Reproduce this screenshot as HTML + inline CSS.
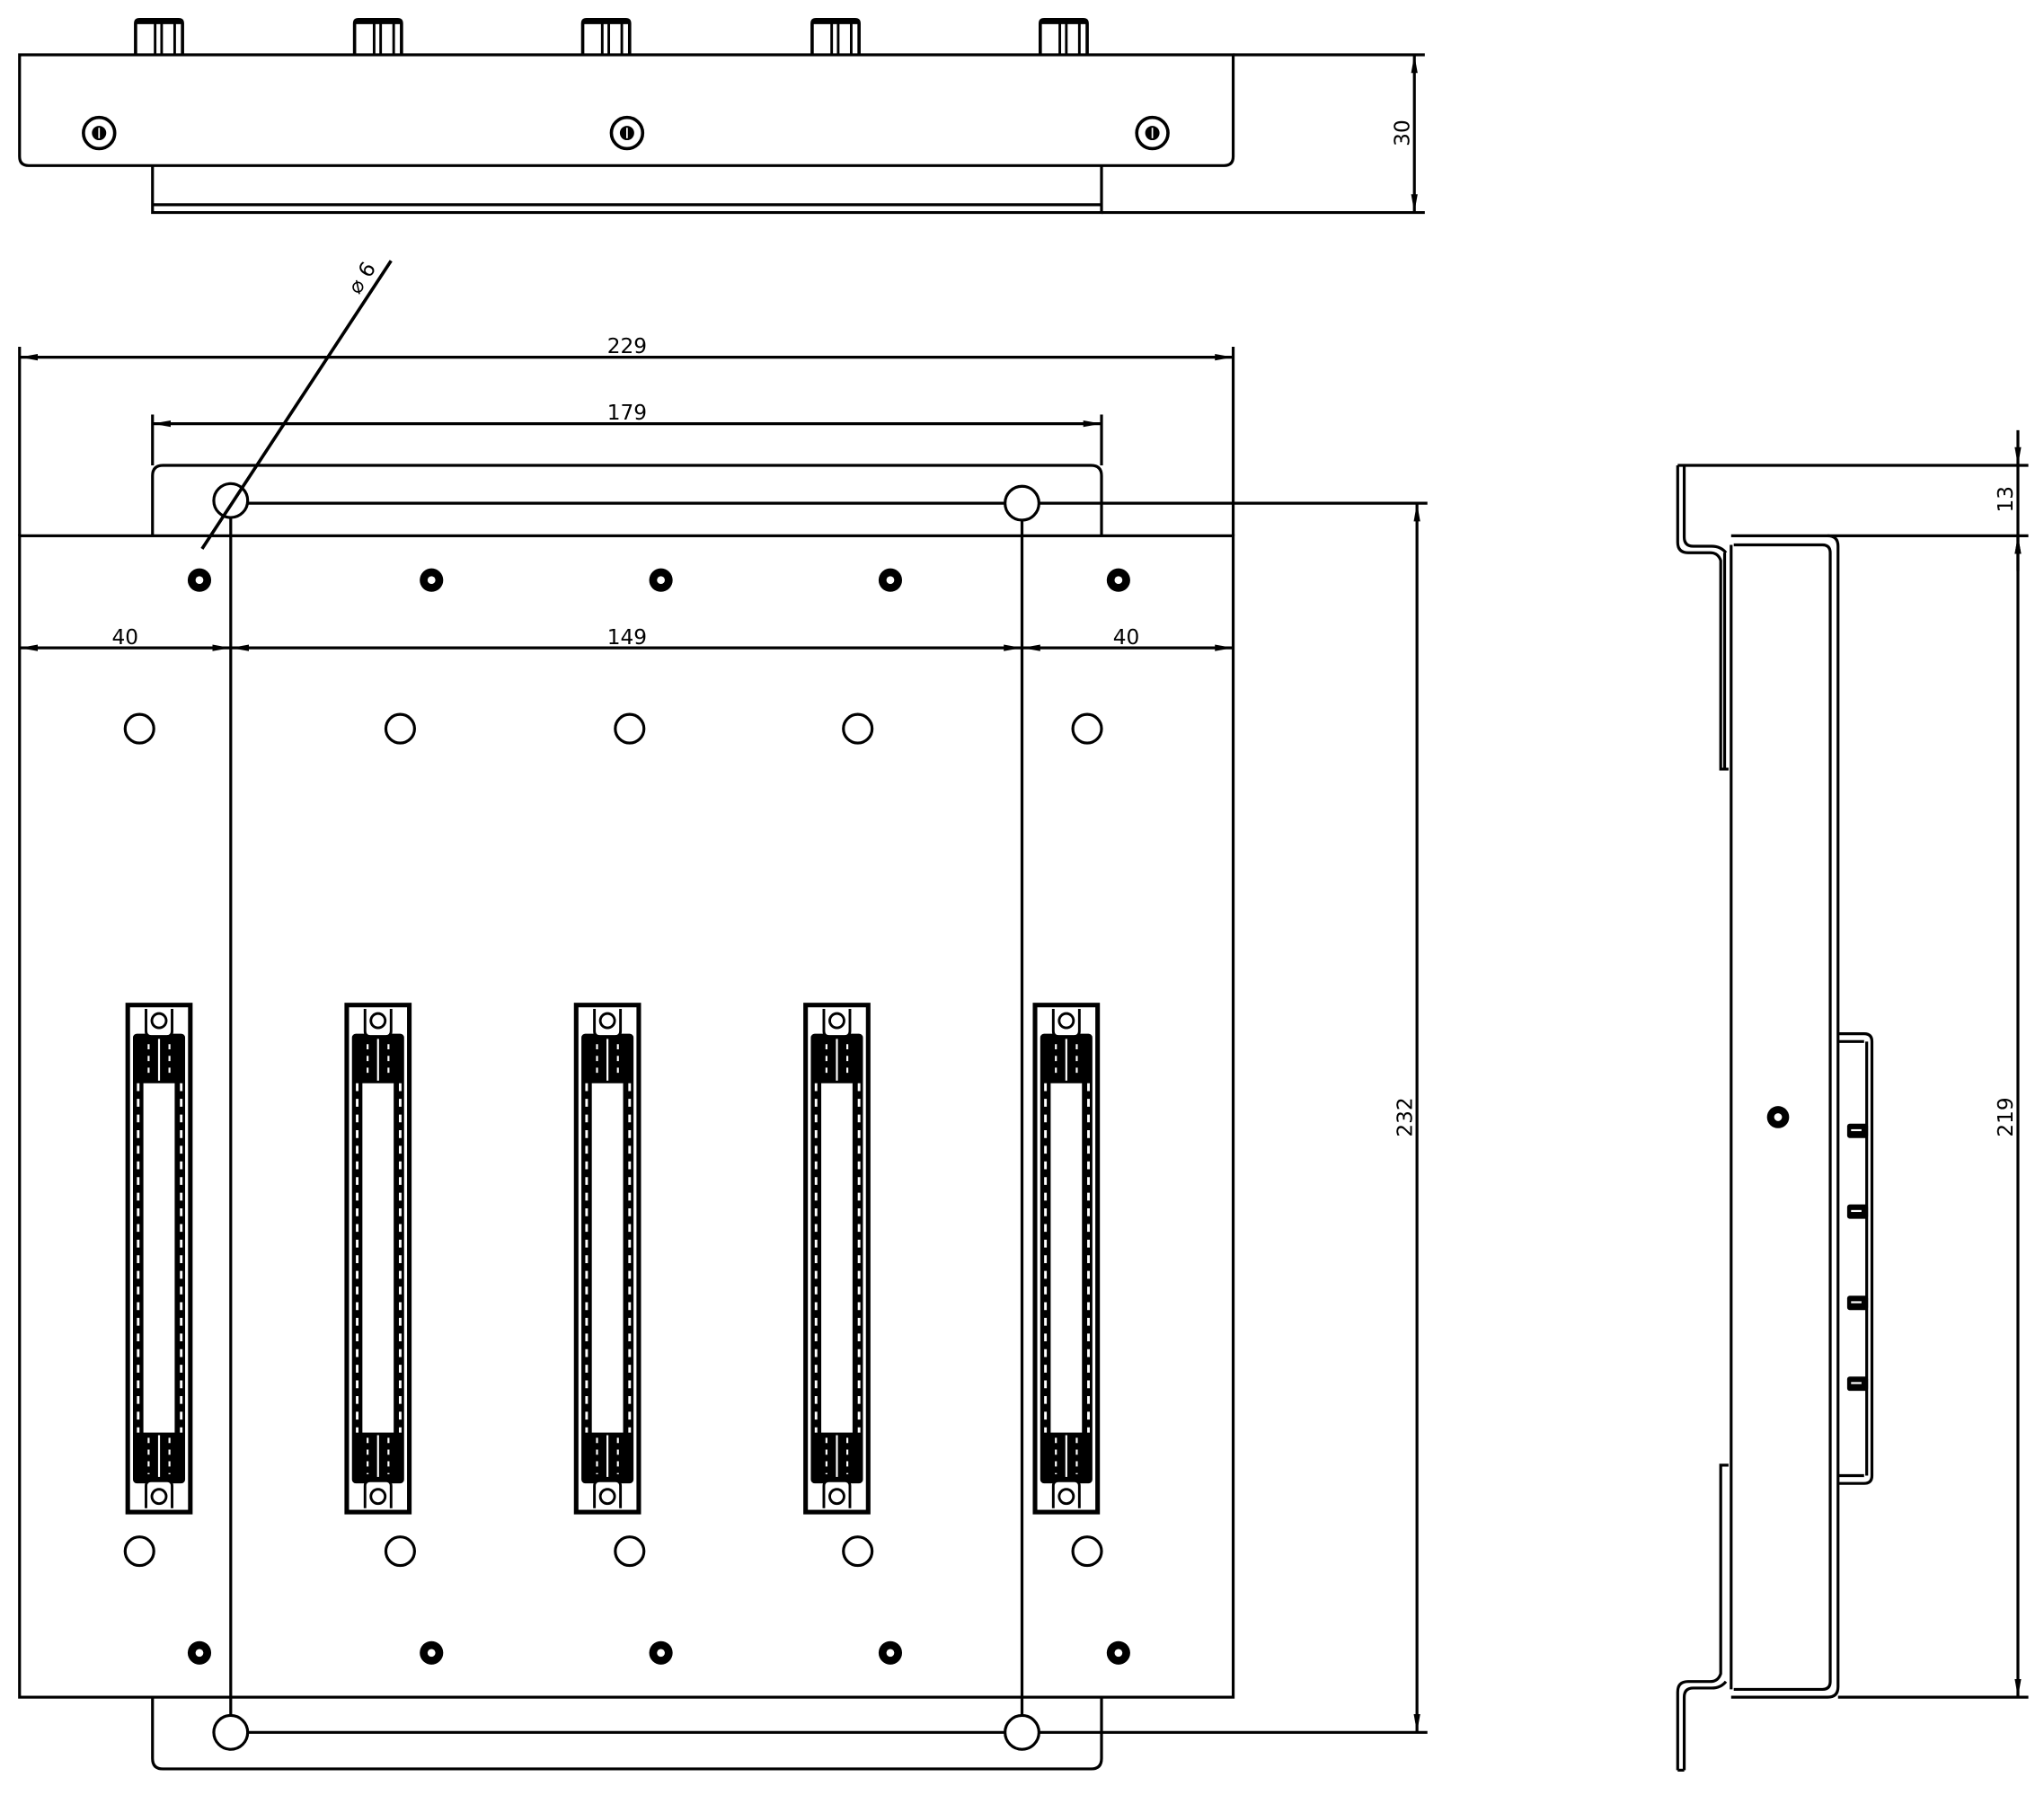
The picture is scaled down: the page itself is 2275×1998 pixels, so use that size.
<!DOCTYPE html>
<html><head><meta charset="utf-8"><style>
html,body{margin:0;padding:0;background:#fff}
svg{display:block}
text{font-family:"DejaVu Sans","Liberation Sans",sans-serif;font-size:16px;fill:#000}
</style></head><body>
<svg width="2275" height="1998" viewBox="0 0 1568 1377" xmlns="http://www.w3.org/2000/svg">
<defs>
<marker id="a" viewBox="0 0 14 6" refX="14" refY="3" markerWidth="14" markerHeight="6" markerUnits="userSpaceOnUse" orient="auto-start-reverse">
<path d="M0,0.5 L14,3 L0,5.5 Z" fill="#000"/></marker>
<g id="dot"><circle r="9" fill="#000"/><circle r="3" fill="#fff"/></g>
<g id="conn">
<rect x="0" y="0" width="48" height="389" fill="#fff" stroke="#000" stroke-width="3.5"/>
<rect x="4" y="22" width="40" height="345" rx="3" fill="#000"/>
<rect x="12" y="60" width="24" height="268" fill="#fff"/>
<line x1="8" y1="60" x2="8" y2="328" stroke="#fff" stroke-width="2" stroke-dasharray="6 6"/>
<line x1="41" y1="60" x2="41" y2="328" stroke="#fff" stroke-width="2" stroke-dasharray="6 6"/>
<line x1="16" y1="30" x2="16" y2="56" stroke="#fff" stroke-width="1.5" stroke-dasharray="4 5"/>
<line x1="24" y1="26" x2="24" y2="58" stroke="#fff" stroke-width="1.5"/>
<line x1="32" y1="30" x2="32" y2="56" stroke="#fff" stroke-width="1.5" stroke-dasharray="4 5"/>
<line x1="16" y1="332" x2="16" y2="360" stroke="#fff" stroke-width="1.5" stroke-dasharray="4 5"/>
<line x1="24" y1="330" x2="24" y2="362" stroke="#fff" stroke-width="1.5"/>
<line x1="32" y1="332" x2="32" y2="360" stroke="#fff" stroke-width="1.5" stroke-dasharray="4 5"/>
<path d="M14,3 L14,20 Q14,24 18,24 L30,24 Q34,24 34,20 L34,3" fill="#fff" stroke="#000" stroke-width="2"/>
<circle cx="24" cy="12" r="5.5" fill="none" stroke="#000" stroke-width="2"/>
<path d="M14,386 L14,369 Q14,365 18,365 L30,365 Q34,365 34,369 L34,386" fill="#fff" stroke="#000" stroke-width="2"/>
<circle cx="24" cy="377" r="5.5" fill="none" stroke="#000" stroke-width="2"/>
</g>
<g id="knob">
<path d="M0,27 L0,3 Q0,0 3,0 L33,0 Q36,0 36,3 L36,27" fill="#fff" stroke="#000" stroke-width="2.5"/>
<line x1="0" y1="2" x2="36" y2="2" stroke="#000" stroke-width="3"/>
<line x1="15" y1="0" x2="15" y2="27" stroke="#000" stroke-width="2"/>
<line x1="20" y1="0" x2="20" y2="27" stroke="#000" stroke-width="2"/>
<line x1="30" y1="0" x2="30" y2="27" stroke="#000" stroke-width="2"/>
</g>
<g id="scr"><circle r="12" fill="#fff" stroke="#000" stroke-width="2.5"/><circle r="5.5" fill="#000"/><line x1="0" y1="-4" x2="0" y2="4" stroke="#fff" stroke-width="1.2"/></g>
</defs>
<g fill="none" stroke="#000" stroke-width="2.2">
<use href="#knob" x="104" y="15"/><use href="#knob" x="272" y="15"/><use href="#knob" x="447" y="15"/><use href="#knob" x="623" y="15"/><use href="#knob" x="798" y="15"/>
<path d="M15,42 L946,42 L946,120 Q946,127 939,127 L22,127 Q15,127 15,120 Z" fill="#fff"/>
<path d="M117,127 L117,163 L845,163 L845,127"/>
<line x1="117" y1="157" x2="845" y2="157"/>
<line x1="946" y1="42" x2="1093" y2="42"/>
<line x1="845" y1="163" x2="1093" y2="163"/>
<line x1="1085" y1="42" x2="1085" y2="163" marker-start="url(#a)" marker-end="url(#a)"/>
<use href="#scr" x="76" y="102" stroke="none"/><use href="#scr" x="481" y="102" stroke="none"/><use href="#scr" x="884" y="102" stroke="none"/>

<path d="M117,411 L117,365 Q117,357 125,357 L837,357 Q845,357 845,365 L845,411"/>
<path d="M117,1302 L117,1349 Q117,1357 125,1357 L837,1357 Q845,1357 845,1349 L845,1302"/>
<rect x="15" y="411" width="931" height="891"/>
<line x1="15" y1="266" x2="15" y2="411"/>
<line x1="946" y1="266" x2="946" y2="411"/>
<line x1="117" y1="318" x2="117" y2="357"/>
<line x1="845" y1="318" x2="845" y2="357"/>
<line x1="15" y1="274" x2="946" y2="274" marker-start="url(#a)" marker-end="url(#a)"/>
<line x1="117" y1="325" x2="845" y2="325" marker-start="url(#a)" marker-end="url(#a)"/>
<line x1="15" y1="497" x2="177" y2="497" marker-start="url(#a)" marker-end="url(#a)"/>
<line x1="177" y1="497" x2="784" y2="497" marker-start="url(#a)" marker-end="url(#a)"/>
<line x1="784" y1="497" x2="946" y2="497" marker-start="url(#a)" marker-end="url(#a)"/>
<line x1="177" y1="384" x2="177" y2="1329"/>
<line x1="784" y1="384" x2="784" y2="1329"/>
<line x1="177" y1="386" x2="1095" y2="386"/>
<line x1="177" y1="1329" x2="1095" y2="1329"/>
<line x1="1087" y1="386" x2="1087" y2="1329" marker-start="url(#a)" marker-end="url(#a)"/>
<circle cx="177" cy="384" r="13" fill="#fff"/><circle cx="784" cy="386" r="13" fill="#fff"/>
<circle cx="177" cy="1329" r="13" fill="#fff"/><circle cx="784" cy="1329" r="13" fill="#fff"/>
<line x1="155" y1="421" x2="300" y2="200" stroke-width="2.5"/>
<g fill="#fff"><circle cx="107" cy="559" r="11"/><circle cx="307" cy="559" r="11"/><circle cx="483" cy="559" r="11"/><circle cx="658" cy="559" r="11"/><circle cx="834" cy="559" r="11"/>
<circle cx="107" cy="1190" r="11"/><circle cx="307" cy="1190" r="11"/><circle cx="483" cy="1190" r="11"/><circle cx="658" cy="1190" r="11"/><circle cx="834" cy="1190" r="11"/></g>
</g>
<g>
<use href="#dot" x="153" y="445"/><use href="#dot" x="331" y="445"/><use href="#dot" x="507" y="445"/><use href="#dot" x="683" y="445"/><use href="#dot" x="858" y="445"/>
<use href="#dot" x="153" y="1268"/><use href="#dot" x="331" y="1268"/><use href="#dot" x="507" y="1268"/><use href="#dot" x="683" y="1268"/><use href="#dot" x="858" y="1268"/>
<use href="#conn" x="98" y="771"/><use href="#conn" x="266" y="771"/><use href="#conn" x="442" y="771"/><use href="#conn" x="618" y="771"/><use href="#conn" x="794" y="771"/>
</g>

<g fill="none" stroke="#000" stroke-width="2.2">
<path d="M1287,357 L1287,416 Q1287,424 1295,424 L1312,424 Q1318,424 1320,430 L1320,590 L1326,590"/>
<path d="M1292,357 L1292,412 Q1292,419 1299,419 L1313,419 Q1320,419 1324,424"/>
<line x1="1287" y1="357" x2="1556" y2="357"/>
<path d="M1328,411 L1402,411 Q1410,411 1410,419 L1410,1294 Q1410,1302 1402,1302 L1328,1302"/>
<line x1="1402" y1="411" x2="1556" y2="411"/>
<line x1="1410" y1="1302" x2="1556" y2="1302"/>
<path d="M1330,418 L1398,418 Q1404,418 1404,424 L1404,1290 Q1404,1296 1398,1296 L1330,1296"/>
<line x1="1328" y1="418" x2="1328" y2="1296"/>
<line x1="1323" y1="424" x2="1323" y2="590"/>
<path d="M1287,1358 L1287,1298 Q1287,1290 1295,1290 L1312,1290 Q1318,1290 1320,1284 L1320,1124 L1326,1124"/>
<path d="M1292,1358 L1292,1302 Q1292,1295 1299,1295 L1313,1295 Q1320,1295 1324,1290"/>
<line x1="1287" y1="1358" x2="1292" y2="1358"/>
<path d="M1410,793 L1430,793 Q1436,793 1436,799 L1436,1132 Q1436,1138 1430,1138 L1410,1138"/>
<line x1="1410" y1="799" x2="1430" y2="799"/>
<line x1="1410" y1="1132" x2="1430" y2="1132"/>
<line x1="1432" y1="799" x2="1432" y2="1132"/>
<line x1="1548" y1="330" x2="1548" y2="357" marker-end="url(#a)"/>
<line x1="1548" y1="357" x2="1548" y2="411"/>
<line x1="1548" y1="438" x2="1548" y2="411" marker-end="url(#a)"/>
<line x1="1548" y1="411" x2="1548" y2="1302" marker-start="url(#a)" marker-end="url(#a)"/>
</g>
<circle cx="1364" cy="857" r="8.5" fill="#000"/><circle cx="1364" cy="857" r="3" fill="#fff"/>
<g fill="#000"><rect x="1417" y="862" width="16" height="11" rx="2"/><rect x="1417" y="924" width="16" height="11" rx="2"/><rect x="1417" y="994" width="16" height="11" rx="2"/><rect x="1417" y="1056" width="16" height="11" rx="2"/></g>
<g stroke="#fff" stroke-width="1.5"><line x1="1420" y1="867" x2="1428" y2="867"/><line x1="1420" y1="929" x2="1428" y2="929"/><line x1="1420" y1="999" x2="1428" y2="999"/><line x1="1420" y1="1061" x2="1428" y2="1061"/></g>

<text x="481" y="271" text-anchor="middle">229</text>
<text x="481" y="322" text-anchor="middle">179</text>
<text x="96" y="494" text-anchor="middle">40</text>
<text x="481" y="494" text-anchor="middle">149</text>
<text x="864" y="494" text-anchor="middle">40</text>
<text transform="translate(1081,102) rotate(-90)" text-anchor="middle">30</text>
<text transform="translate(1083,857) rotate(-90)" text-anchor="middle">232</text>
<text transform="translate(1544,383) rotate(-90)" text-anchor="middle">13</text>
<text transform="translate(1544,857) rotate(-90)" text-anchor="middle">219</text>
<text transform="translate(282,216) rotate(-57)" text-anchor="middle">⌀ 6</text>
</svg>
</body></html>
